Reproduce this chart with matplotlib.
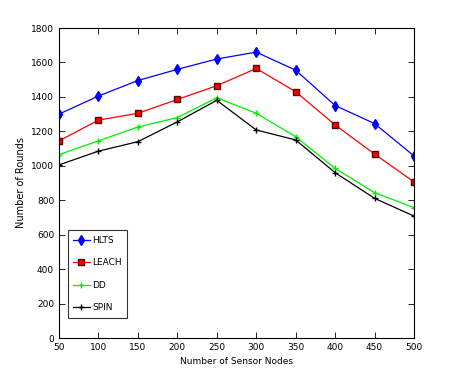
import matplotlib
matplotlib.use("Agg")
import matplotlib.pyplot as plt

nodes = [50, 100, 150, 200, 250, 300, 350, 400, 450, 500]
hlts = [1300, 1405, 1495, 1560, 1620, 1660, 1555, 1350, 1245, 1057]
leach = [1145, 1265, 1305, 1385, 1465, 1565, 1430, 1237, 1068, 906]
dd = [1065, 1145, 1225, 1280, 1395, 1305, 1169, 985, 844, 757]
spin = [1005, 1085, 1140, 1255, 1380, 1208, 1150, 960, 811, 708]
xticks = [50, 100, 150, 200, 250, 300, 350, 400, 450, 500]
yticks = [0, 200, 400, 600, 800, 1000, 1200, 1400, 1600, 1800]

plt.rcParams['font.family'] = ['DejaVu Sans']

fig = plt.figure(figsize=(4.56, 3.81), dpi=100)
ax = fig.add_axes([59/456, 1 - 338/381, (414-59)/456, (338-28)/381])

ax.plot(nodes, hlts, color='blue', marker='d', markersize=5.5, markerfacecolor='blue', markeredgecolor='blue', lw=0.9, label='HLTS')
ax.plot(nodes, leach, color='red', marker='s', markersize=5, markerfacecolor='red', markeredgecolor='#600000', lw=0.9, label='LEACH')
ax.plot(nodes, dd, color='#00ee00', marker='+', markersize=4, lw=0.9, label='DD')
ax.plot(nodes, spin, color='black', marker='+', markersize=4, lw=0.9, label='SPIN')

ax.set_xlim(50, 500)
ax.set_ylim(0, 1800)
ax.set_xticks(xticks)
ax.set_yticks(yticks)
ax.tick_params(direction='in', top=True, right=True, labelsize=6.5, length=4, width=0.6)
for s in ax.spines.values():
    s.set_linewidth(0.8)
ax.set_xlabel('Number of Sensor Nodes', fontsize=6.5)
ax.set_ylabel('Number of Rounds', fontsize=7)

leg = ax.legend(loc='lower left', bbox_to_anchor=(0.025, 0.065), fontsize=6.5, frameon=True, fancybox=False,
                edgecolor='black', handlelength=1.8, handletextpad=0.3, labelspacing=1.5, borderpad=0.6,
                borderaxespad=0.0)
leg.get_frame().set_linewidth(0.8)

fig.savefig('out.png', dpi=100)
